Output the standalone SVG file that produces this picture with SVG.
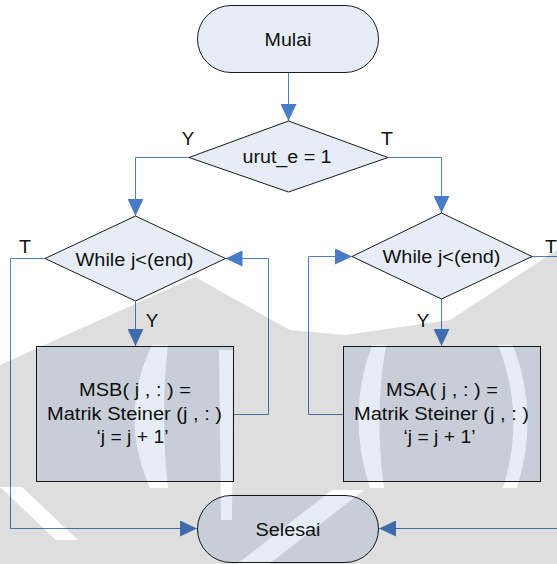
<svg xmlns="http://www.w3.org/2000/svg" width="557" height="564" viewBox="0 0 557 564">
  <defs>
    <style>
      .shape { fill: #e6edf7; stroke: #1a1a1a; stroke-width: 1; }
      .conn { fill: none; stroke: #4f81bd; stroke-width: 1; }
      .lbl { font-family: "Liberation Sans", Arial, sans-serif; font-size: 17.5px; fill: #111; text-anchor: middle; }
    </style>
    <marker id="arrow" markerUnits="userSpaceOnUse" markerWidth="17" markerHeight="16" refX="17" refY="8" orient="auto" viewBox="0 0 17 16">
      <path d="M0,0 L17,8 L0,16 Z" fill="#4a7bc6"/>
    </marker>
    <!-- background emblem: grey areas with light bands cut out -->
    <mask id="emblem" maskUnits="userSpaceOnUse" x="0" y="0" width="557" height="564">
      <polygon points="0,365 195,277 290,330 345,335 450,320 557,250 557,564 0,564" fill="#fff"/>
      <path d="M152,345 Q118,415 150,488 L168,488 Q160,415 168,345 Z" fill="#000"/>
      <path d="M219,350 L233,350 L232,520 L221,520 Z" fill="#000"/>
      <path d="M372,345 Q346,415 370,488 L384,488 Q374,415 386,345 Z" fill="#000"/>
      <path d="M498,345 Q526,415 503,488 L517,488 Q540,415 513,345 Z" fill="#000"/>
      <path d="M332,490 L364,490 L269,564 L237,564 Z" fill="#000"/>
      <path d="M0,487 L22,487 L78,540 L56,540 Z" fill="#000"/>
    </mask>
  </defs>

  <rect width="557" height="564" fill="#fff"/>

  <g id="connectors">
    <path class="conn" d="M288.5,73 V121" marker-end="url(#arrow)"/>
    <path class="conn" d="M189,157.5 H135.5 V216" marker-end="url(#arrow)"/>
    <path class="conn" d="M388,157.5 H441.5 V213" marker-end="url(#arrow)"/>
    <path class="conn" d="M135.5,301 V346" marker-end="url(#arrow)"/>
    <path class="conn" d="M441.5,299 V346" marker-end="url(#arrow)"/>
    <path class="conn" d="M234,414.5 H268.5 V258.5 H225.5" marker-end="url(#arrow)"/>
    <path class="conn" d="M343,414.5 H308.5 V256.5 H352" marker-end="url(#arrow)"/>
    <path class="conn" d="M45,258.5 H10.5 V528.5 H197" marker-end="url(#arrow)"/>
    <path class="conn" d="M532,256.5 H565 V528.5 H379" marker-end="url(#arrow)"/>
  </g>

  <g id="mulai">
    <rect class="shape" x="197.5" y="5.5" width="181" height="67" rx="33.5"/>
    <text class="lbl" x="288" y="45.5" textLength="47" lengthAdjust="spacingAndGlyphs">Mulai</text>
  </g>

  <g id="cek-urut">
    <polygon class="shape" points="288.5,121 388,157.5 288.5,192 189,157.5"/>
    <text class="lbl" x="287" y="163" textLength="89" lengthAdjust="spacingAndGlyphs">urut_e = 1</text>
    <text class="lbl" x="188" y="145" textLength="12.5" lengthAdjust="spacingAndGlyphs">Y</text>
    <text class="lbl" x="387" y="145" textLength="12" lengthAdjust="spacingAndGlyphs">T</text>
  </g>

  <g id="while-kiri">
    <polygon class="shape" points="135.5,216 225.5,258.5 135.5,301 45,258.5"/>
    <text class="lbl" x="134.5" y="265.5" textLength="118" lengthAdjust="spacingAndGlyphs">While j&lt;(end)</text>
    <text class="lbl" x="25" y="252.5" textLength="12" lengthAdjust="spacingAndGlyphs">T</text>
    <text class="lbl" x="152" y="326.5" textLength="12.5" lengthAdjust="spacingAndGlyphs">Y</text>
  </g>

  <g id="while-kanan">
    <polygon class="shape" points="441.5,213 532,256.5 441.5,299 352,256.5"/>
    <text class="lbl" x="441.5" y="263" textLength="118" lengthAdjust="spacingAndGlyphs">While j&lt;(end)</text>
    <text class="lbl" x="551" y="252.5" textLength="12" lengthAdjust="spacingAndGlyphs">T</text>
    <text class="lbl" x="423" y="326.5" textLength="12.5" lengthAdjust="spacingAndGlyphs">Y</text>
  </g>

  <g id="proses-msb">
    <rect class="shape" x="36.5" y="346.5" width="197" height="135"/>
    <text class="lbl" x="135" y="396" textLength="112" lengthAdjust="spacingAndGlyphs">MSB( j , : ) =</text>
    <text class="lbl" x="134.5" y="420" textLength="175" lengthAdjust="spacingAndGlyphs">Matrik Steiner (j , : )</text>
    <text class="lbl" x="132.5" y="443" textLength="72" lengthAdjust="spacingAndGlyphs">‘j = j + 1’</text>
  </g>

  <g id="proses-msa">
    <rect class="shape" x="343.5" y="346.5" width="197" height="135"/>
    <text class="lbl" x="442" y="396" textLength="112" lengthAdjust="spacingAndGlyphs">MSA( j , : ) =</text>
    <text class="lbl" x="441.5" y="420" textLength="175" lengthAdjust="spacingAndGlyphs">Matrik Steiner (j , : )</text>
    <text class="lbl" x="439.5" y="443" textLength="72" lengthAdjust="spacingAndGlyphs">‘j = j + 1’</text>
  </g>

  <g id="selesai">
    <rect class="shape" x="197.5" y="495.5" width="181" height="67" rx="33.5"/>
    <text class="lbl" x="288" y="535.5" textLength="65" lengthAdjust="spacingAndGlyphs">Selesai</text>
  </g>

  <!-- faint grey emblem laid over the lower half -->
  <rect width="557" height="564" fill="#000" fill-opacity="0.13" mask="url(#emblem)"/>
</svg>
